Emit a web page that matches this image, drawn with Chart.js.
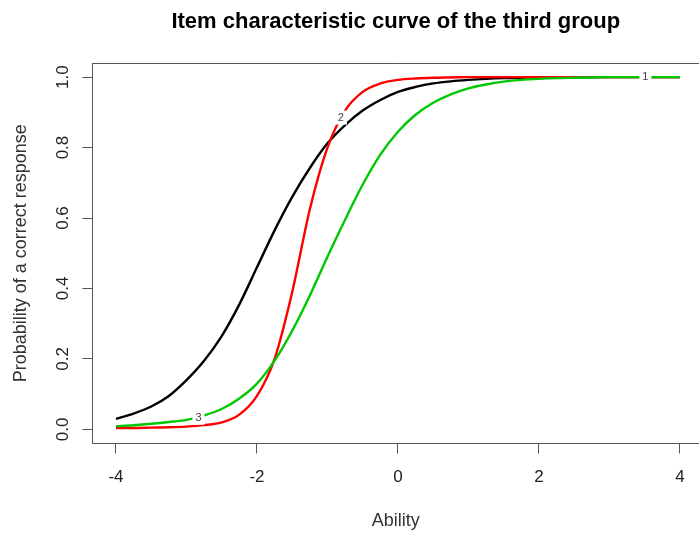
<!DOCTYPE html>
<html>
<head>
<meta charset="utf-8">
<script src="https://cdn.jsdelivr.net/npm/chart.js@4"></script>
<style>
html,body{margin:0;padding:0;background:#fff;overflow:hidden;}
#wrap{width:699px;height:533px;}
</style>
</head>
<body>
<div id="wrap"><canvas id="c" width="699" height="533"></canvas></div>
<script>
// Data
const abilities = [-4,-3.75,-3.5,-3.25,-3,-2.75,-2.5,-2.25,-2,-1.75,-1.5,-1.25,-1,-0.75,-0.5,-0.25,0,0.25,0.5,0.75,1,1.25,1.5,1.75,2,2.25,2.5,2.75,3,3.25,3.5,3.75,4];
const item1 = [0.030,0.045,0.065,0.095,0.140,0.195,0.265,0.355,0.460,0.565,0.660,0.742,0.812,0.864,0.905,0.935,0.958,0.972,0.982,0.988,0.992,0.995,0.997,0.998,0.999,0.999,1.000,1.000,1.000,1.000,1.000,1.000,1.000];
const item2 = [0.004,0.004,0.005,0.006,0.008,0.012,0.020,0.042,0.095,0.200,0.390,0.625,0.800,0.905,0.958,0.982,0.992,0.996,0.998,0.999,1.000,1.000,1.000,1.000,1.000,1.000,1.000,1.000,1.000,1.000,1.000,1.000,1.000];
const item3 = [0.009,0.012,0.016,0.021,0.027,0.040,0.058,0.088,0.130,0.195,0.280,0.380,0.490,0.595,0.695,0.780,0.845,0.893,0.927,0.951,0.968,0.979,0.987,0.992,0.995,0.997,0.998,0.999,1.000,1.000,1.000,1.000,1.000];
const xTicks = [-4,-2,0,2,4];
const yTicks = [0,0.2,0.4,0.6,0.8,1.0];
const curveLabels = ['1','2','3'];
const labelX = [3.51,-0.81,-2.83];
const labelY = [0.999,0.885,0.033];

const pts = arr => abilities.map((a,i)=>({x:a,y:arr[i]}));

const curveLabelPlugin = {
  id:'curveLabels',
  afterDatasetsDraw(chart){
    const {ctx, scales:{x, y}} = chart;
    ctx.save();
    ctx.font = '11px "Liberation Sans", Arial, sans-serif';
    ctx.textAlign = 'center';
    ctx.textBaseline = 'middle';
    curveLabels.forEach((t,i)=>{
      const px = x.getPixelForValue(labelX[i]);
      const py = y.getPixelForValue(labelY[i]);
      ctx.fillStyle = '#ffffff';
      ctx.fillRect(px-6, py-7, 12, 14);
      ctx.fillStyle = '#444';
      ctx.fillText(t, px, py);
    });
    ctx.restore();
  }
};
const topBorderPlugin = {
  id:'topBorder',
  afterDraw(chart){
    const {ctx, chartArea:a} = chart;
    ctx.save();
    ctx.strokeStyle = '#555';
    ctx.lineWidth = 1;
    ctx.beginPath();
    ctx.moveTo(a.left, a.top+0.5);
    ctx.lineTo(a.right, a.top+0.5);
    ctx.stroke();
    ctx.restore();
  }
};

const font = '"Liberation Sans", Arial, sans-serif';
new Chart(document.getElementById('c'), {
  type:'scatter',
  data:{datasets:[
    {label:'1', data:pts(item1), borderColor:'#000000', order:2},
    {label:'2', data:pts(item2), borderColor:'#ff0000', order:1},
    {label:'3', data:pts(item3), borderColor:'#00c800', order:0}
  ].map(d=>Object.assign(d,{showLine:true, pointRadius:0, borderWidth:2.4, cubicInterpolationMode:'monotone', fill:false}))},
  options:{
    responsive:false, animation:false,
    layout:{padding:0},
    plugins:{
      legend:{display:false}, tooltip:{enabled:false},
      title:{display:true, fullSize:false, text:'Item characteristic curve of the third group',
        color:'#000', font:{family:font, size:22, weight:'bold'}, padding:{top:9, bottom:27.6}}
    },
    scales:{
      x:{type:'linear', min:-4.333, max:4.27,
        afterBuildTicks(s){ s.ticks = xTicks.map(v=>({value:v})); },
        afterFit(s){ s.height = 89.5; },
        ticks:{color:'#222', font:{family:font, size:17}, padding:14, callback:v=>String(v)},
        grid:{drawOnChartArea:false, drawTicks:true, tickLength:10, color:'#555', lineWidth:1},
        border:{display:true, color:'#555', width:1},
        title:{display:true, text:'Ability', color:'#333', font:{family:font, size:18}, padding:{top:0, bottom:1}}
      },
      y:{type:'linear', min:-0.04, max:1.04,
        afterBuildTicks(s){ s.ticks = yTicks.map(v=>({value:v})); },
        afterFit(s){ s.width = 92.5; },
        ticks:{color:'#222', font:{family:font, size:17}, padding:7, minRotation:90, maxRotation:90, crossAlign:'center', autoSkip:false, callback:v=>v.toFixed(1)},
        grid:{drawOnChartArea:false, drawTicks:true, tickLength:10, color:'#555', lineWidth:1},
        border:{display:true, color:'#555', width:1},
        title:{display:true, text:'Probability of a correct response', color:'#333', font:{family:font, size:18}, padding:{top:10, bottom:0}}
      }
    }
  },
  plugins:[curveLabelPlugin, topBorderPlugin]
});
</script>
</body>
</html>
